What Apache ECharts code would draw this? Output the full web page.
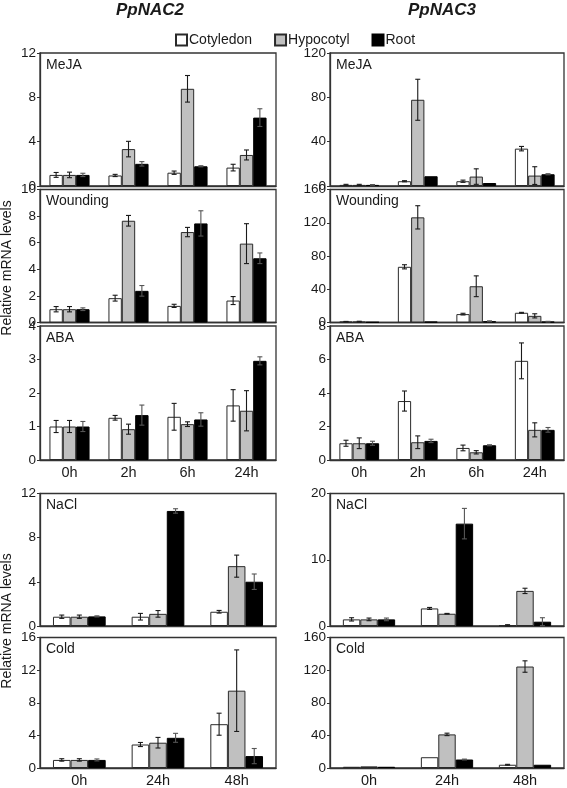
<!DOCTYPE html>
<html><head><meta charset="utf-8">
<script src="https://cdn.jsdelivr.net/npm/echarts@6/dist/echarts.min.js"></script>
<style>html,body{margin:0;padding:0;background:#fff}#c{width:567px;height:788px}</style>
</head><body><div id="c"></div>
<script>
const tissues = ['Cotyledon', 'Hypocotyl', 'Root'];
const catsTop = ['0h', '2h', '6h', '24h'];
const catsBottom = ['0h', '24h', '48h'];

// PpNAC2 (left column) values [Cotyledon, Hypocotyl, Root] and SD
const nac2MeJA = [[1.0, 0.95, 1.2, 1.66], [1.0, 3.33, 8.77, 2.8], [1.0, 2.0, 1.78, 6.17]];
const nac2MeJAErr = [[0.22, 0.1, 0.15, 0.3], [0.25, 0.7, 1.2, 0.45], [0.15, 0.2, 0.05, 0.8]];
const nac2Wound = [[1.0, 1.83, 1.25, 1.65], [1.0, 7.65, 6.8, 5.93], [1.0, 2.38, 7.45, 4.83]];
const nac2WoundErr = [[0.2, 0.22, 0.12, 0.3], [0.2, 0.4, 0.35, 1.5], [0.1, 0.4, 0.95, 0.4]];
const nac2ABA = [[1.0, 1.26, 1.29, 1.63], [1.0, 0.92, 1.07, 1.47], [1.0, 1.34, 1.21, 2.96]];
const nac2ABAErr = [[0.18, 0.07, 0.4, 0.47], [0.18, 0.15, 0.07, 0.6], [0.15, 0.3, 0.2, 0.12]];
const nac2NaCl = [[0.84, 0.84, 1.29], [0.84, 1.1, 5.42], [0.87, 10.42, 4.01]];
const nac2NaClErr = [[0.15, 0.3, 0.12], [0.15, 0.3, 1.0], [0.05, 0.2, 0.7]];
const nac2Cold = [[0.99, 2.88, 5.37], [0.99, 3.1, 9.48], [0.99, 3.7, 1.46]];
const nac2ColdErr = [[0.15, 0.25, 1.35], [0.15, 0.65, 5.0], [0.12, 0.55, 0.93]];

// PpNAC3 (right column)
const nac3MeJA = [[1, 4.3, 4.3, 33.7], [1, 77.8, 8.5, 9.4], [1, 8.8, 2.7, 10.6]];
const nac3MeJAErr = [[0.5, 0.5, 1.0, 2.0], [0.5, 18.5, 7.0, 8.0], [0.3, 0, 0, 0.5]];
const nac3Wound = [[1, 67, 10.1, 11.7], [1, 126.5, 43.6, 8], [0.5, 1, 1.5, 1]];
const nac3WoundErr = [[0.3, 2.5, 1, 0.5], [0.5, 14, 12.5, 2.5], [0, 0, 0.5, 0.4]];
const nac3ABA = [[1.0, 3.52, 0.72, 5.92], [1.0, 1.06, 0.46, 1.8], [1.0, 1.14, 0.88, 1.8]];
const nac3ABAErr = [[0.18, 0.6, 0.17, 1.07], [0.32, 0.38, 0.1, 0.42], [0.12, 0.1, 0.03, 0.14]];
const nac3NaCl = [[1.0, 2.65, 0.1], [1.0, 1.85, 5.3], [1.0, 15.45, 0.65]];
const nac3NaClErr = [[0.25, 0.15, 0.1], [0.2, 0.05, 0.4], [0.2, 2.3, 0.6]];
const nac3Cold = [[1.5, 13.2, 4], [2, 41.2, 124.4], [1.5, 10.4, 4]];
const nac3ColdErr = [[0, 0, 0.5], [0, 1.5, 7], [0, 0.5, 0]];

const yMax = [12, 120, 10, 160, 4, 8, 12, 20, 16, 160];
const yStep = [4, 40, 2, 40, 1, 2, 4, 10, 4, 40];
const panelNames = ['MeJA', 'MeJA', 'Wounding', 'Wounding', 'ABA', 'ABA', 'NaCl', 'NaCl', 'Cold', 'Cold'];

const panels = [
  [nac2MeJA, nac2MeJAErr], [nac3MeJA, nac3MeJAErr],
  [nac2Wound, nac2WoundErr], [nac3Wound, nac3WoundErr],
  [nac2ABA, nac2ABAErr], [nac3ABA, nac3ABAErr],
  [nac2NaCl, nac2NaClErr], [nac3NaCl, nac3NaClErr],
  [nac2Cold, nac2ColdErr], [nac3Cold, nac3ColdErr]
];

const FONT = 'Liberation Sans, Arial, sans-serif';
const TXT = '#1a1a1a';
const fills = ['#ffffff', '#c0c0c0', '#000000'];
const borders = ['#2a2a2a', '#2a2a2a', '#000000'];

const colLeft = [40, 330];
const colWidth = [236, 234];
const rows = [[53, 133], [189.5, 133], [326, 134], [493.5, 132.5], [637.5, 134.5]];

const grids = [], xAxes = [], yAxes = [], series = [], graphics = [];

panels.forEach((p, k) => {
  const col = k % 2, row = Math.floor(k / 2);
  const top = row >= 3;
  const cats = top ? catsBottom : catsTop;
  const gap = top ? 0.33 : 0.32;
  const showX = (row === 2 || row === 4);
  grids.push({
    left: colLeft[col], top: rows[row][0], width: colWidth[col], height: rows[row][1],
    show: true, borderColor: '#333', borderWidth: 1.3, backgroundColor: 'transparent'
  });
  xAxes.push({
    type: 'category', gridIndex: k, data: cats,
    axisLine: { show: true, lineStyle: { color: '#333', width: 1.3 } },
    axisTick: { show: false },
    axisLabel: { show: showX, fontSize: 14.5, color: TXT, fontFamily: FONT, margin: 5 }
  });
  yAxes.push({
    type: 'value', gridIndex: k, min: 0, max: yMax[k], interval: yStep[k],
    axisLine: { show: true, lineStyle: { color: '#333', width: 1.3 } },
    axisTick: { show: true, length: 3, lineStyle: { color: '#333' } },
    splitLine: { show: false },
    axisLabel: { fontSize: 13.5, color: TXT, fontFamily: FONT, margin: 4, showMaxLabel: true }
  });
  const vals = p[0], errs = p[1];
  tissues.forEach((t, s) => {
    series.push({
      type: 'bar', name: t, xAxisIndex: k, yAxisIndex: k,
      data: vals[s], barGap: '0%', barCategoryGap: (gap * 100) + '%',
      itemStyle: { color: fills[s], borderColor: borders[s], borderWidth: 1 },
      emphasis: { disabled: true }
    });
  });
  tissues.forEach((t, s) => {
    const d = vals[s].map((v, i) => [i, v, errs[s][i]]);
    series.push({
      type: 'custom', xAxisIndex: k, yAxisIndex: k, z: 5, silent: true,
      data: d,
      renderItem: function (params, api) {
        const ci = api.value(0), v = api.value(1), e = api.value(2);
        if (!e) return null;
        const c = api.coord([ci, v]);
        const band = api.size([1, 0])[0];
        const bw = band * (1 - gap) / 3;
        const x = c[0] + (s - 1) * bw;
        const y1 = api.coord([ci, v + e])[1];
        const y2 = api.coord([ci, Math.max(v - e, 0)])[1];
        const cw = 2.5;
        const st = { stroke: s === 2 ? '#555' : '#1a1a1a', lineWidth: 1.1 };
        return {
          type: 'group', children: [
            { type: 'line', shape: { x1: x, y1: y1, x2: x, y2: y2 }, style: st },
            { type: 'line', shape: { x1: x - cw, y1: y1, x2: x + cw, y2: y1 }, style: st },
            { type: 'line', shape: { x1: x - cw, y1: y2, x2: x + cw, y2: y2 }, style: st }
          ]
        };
      }
    });
  });
  graphics.push({
    type: 'text', left: colLeft[col] + 6, top: rows[row][0] + 5,
    style: { text: panelNames[k], fontSize: 14, fill: TXT, fontFamily: FONT }
  });
});

graphics.push(
  { type: 'text', x: 150, y: 10, style: { text: 'PpNAC2', fontSize: 17, fontWeight: 'bold', fontStyle: 'italic', fill: TXT, fontFamily: FONT, align: 'center', verticalAlign: 'middle' } },
  { type: 'text', x: 442, y: 10, style: { text: 'PpNAC3', fontSize: 17, fontWeight: 'bold', fontStyle: 'italic', fill: TXT, fontFamily: FONT, align: 'center', verticalAlign: 'middle' } },
  { type: 'text', x: 7, y: 268, rotation: Math.PI / 2, style: { text: 'Relative mRNA levels', fontSize: 14, fill: TXT, fontFamily: FONT, align: 'center', verticalAlign: 'middle' } },
  { type: 'text', x: 7, y: 621, rotation: Math.PI / 2, style: { text: 'Relative mRNA levels', fontSize: 14, fill: TXT, fontFamily: FONT, align: 'center', verticalAlign: 'middle' } }
);

const chart = echarts.init(document.getElementById('c'), null, { renderer: 'canvas' });
chart.setOption({
  animation: false,
  backgroundColor: '#ffffff',
  legend: {
    data: tissues, left: 170, top: 28, icon: 'rect', itemWidth: 11, itemHeight: 11,
    itemGap: 22, selectedMode: false,
    textStyle: { fontSize: 14, color: TXT, fontFamily: FONT, padding: [0, 0, 0, -3] }
  },
  grid: grids, xAxis: xAxes, yAxis: yAxes, series: series, graphic: graphics
});
</script></body></html>
